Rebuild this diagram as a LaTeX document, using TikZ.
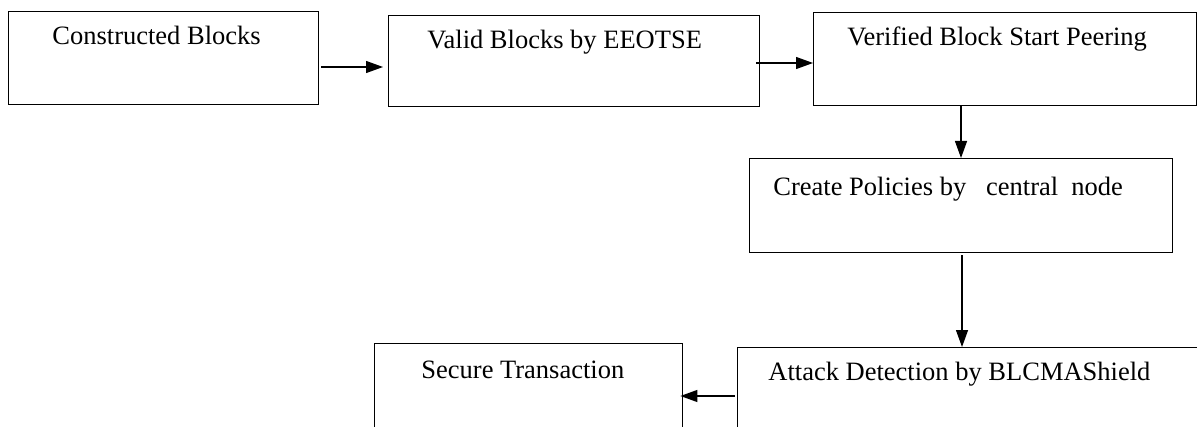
\documentclass[tikz,border=0pt]{standalone}
\usepackage{fontspec}
\setmainfont{Liberation Serif}
\usetikzlibrary{arrows.meta,calc}
\begin{document}
\begin{tikzpicture}[x=0.5pt,y=-0.5pt,
  box/.style={draw=black,line width=0.7pt,rectangle,inner sep=0pt,anchor=north west},
  lbl/.style={anchor=base west,inner sep=0pt,font=\fontsize{13.25}{16}\selectfont},
  arr/.style={draw=black,line width=0.6pt,-{Triangle[length=8.5pt,width=6pt]}}]
\useasboundingbox (0,0) rectangle (1197,427);
\clip (0,0) rectangle (1197,427);
% boxes
\node[box,minimum width=155pt,minimum height=46.5pt] (b1) at (8,11) {};
\node[box,minimum width=185.5pt,minimum height=45.5pt] (b2) at (388,15) {};
\node[box,minimum width=191.5pt,minimum height=46.5pt] (b3) at (813,12) {};
\node[box,minimum width=211.5pt,minimum height=47pt] (b4) at (749,158) {};
\node[box,minimum width=230pt,minimum height=50pt] (b5) at (737,347) {};
\node[box,minimum width=154pt,minimum height=52pt] (b6) at (374,343) {};
% labels
\node[lbl] (t1) at (52,45) {Constructed Blocks};
\node[lbl] (t2) at (427,49) {Valid Blocks by EEOTSE};
\node[lbl] (t3) at (847,46) {Verified Block Start Peering};
\node[lbl] (t4) at (773,196) {Create Policies by\ \ \ central\ \ node};
\node[lbl] (t5) at (768,380) {Attack Detection by BLCMAShield};
\node[lbl] (t6) at (421,378) {Secure Transaction};
% helper coordinates
\coordinate (y1) at (0,67);
\coordinate (y2) at (0,63);
\coordinate (x3) at (961,0);
\coordinate (x4) at (962,0);
\coordinate (y5) at (0,396);
% connectors
\draw[arr] ([xshift=1pt]b1.east |- y1) -- ([xshift=-2.5pt]b2.west |- y1);
\draw[arr] ([xshift=-2pt]b2.east |- y2) -- (b3.west |- y2);
\draw[arr] (x3 |- b3.south) -- (x3 |- b4.north);
\draw[arr] ([yshift=-1pt]x4 |- b4.south) -- (x4 |- b5.north);
\draw[arr] ([xshift=-1pt]b5.west |- y5) -- ([xshift=-1.5pt]b6.east |- y5);
\end{tikzpicture}
\end{document}
